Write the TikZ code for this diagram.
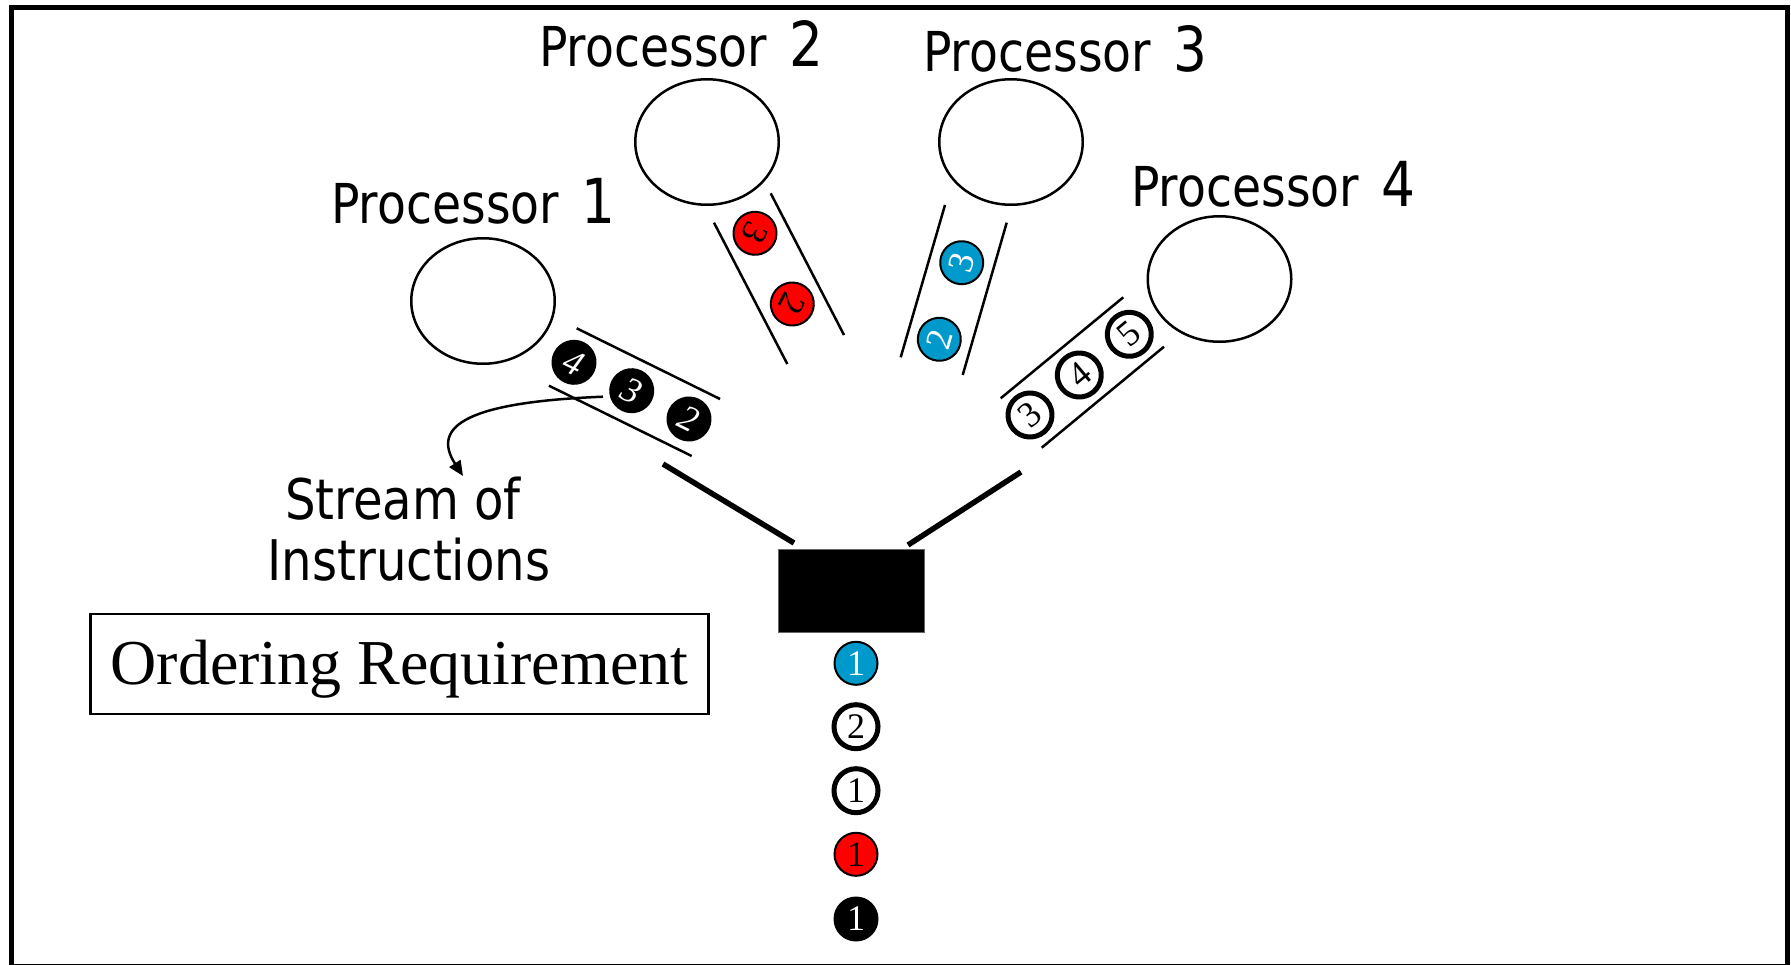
\documentclass[tikz,border=0pt]{standalone}
\usepackage{fontspec}
\setmainfont{Liberation Serif}
\newfontfamily\procfont[FakeStretch=0.86]{DejaVu Sans}
\usetikzlibrary{arrows.meta,shapes.geometric}
\definecolor{cblue}{RGB}{0,153,204}
\definecolor{cred}{RGB}{255,0,0}
\tikzset{
  procell/.style={ellipse, draw=black, line width=2.5pt, inner sep=0pt, minimum width=143.5pt, minimum height=125.5pt},
  proclabel/.style={anchor=base west, inner sep=0pt, font=\fontsize{55}{62}\procfont},
  chan/.style={line width=2.5pt, draw=black},
  tok/.style={circle, inner sep=0pt, minimum size=43pt, line width=2pt, draw=black, font=\fontsize{36}{40}\selectfont},
  tokblack/.style={tok, fill=black, text=white},
  tokblue/.style={tok, fill=cblue, text=white},
  tokred/.style={tok, fill=cred, text=black},
  tokwhite/.style={tok, minimum size=44pt, line width=5pt, fill=white, text=black},
  thick link/.style={line width=5.5pt, draw=black},
}
\newcommand{\procname}[1]{Processor\hspace{22pt}{\fontsize{62}{70}\selectfont #1}}
\begin{document}
\begin{tikzpicture}[x=1pt,y=-1pt]
\useasboundingbox (0,0) rectangle (1791,964);
% frame
\draw[line width=5pt] (11,7.5) rectangle (1787,966);

% processors
\node[procell] (p1) at (483,301) {};
\node[procell] (p2) at (707,142) {};
\node[procell] (p3) at (1011,142) {};
\node[procell] (p4) at (1219.5,279) {};

\node[proclabel] (l1) at (331,223) {\procname{1}};
\node[proclabel] (l2) at (539,66.7) {\procname{2}};
\node[proclabel] (l3) at (923,71) {\procname{3}};
\node[proclabel] (l4) at (1131,206.7) {\procname{4}};

% channel of processor 1
\draw[chan] (576.7,328.3) -- (720,399);
\draw[chan] (549,385.7) -- (691.7,456);
\node[tokblack, font=\fontsize{36}{40}\selectfont\itshape, rotate=-26] (a4) at (574,362.3) {4};
\node[tokblack, font=\fontsize{36}{40}\selectfont\itshape, rotate=-26] (a3) at (631.7,390.7) {3};
\node[tokblack, font=\fontsize{36}{40}\selectfont\itshape, rotate=-26] (a2) at (689,419) {2};

% channel of processor 2
\draw[chan] (714,222.7) -- (787.3,364);
\draw[chan] (770.7,193.3) -- (844,335);
\node[tokred, rotate=-117] (b3) at (755,233.3) {3};
\node[tokred, rotate=-117] (b2) at (792.3,304) {2};

% channel of processor 3
\draw[chan] (945,205) -- (900.7,357.3);
\draw[chan] (1006.7,222.7) -- (962.7,375);
\node[tokblue, rotate=74] (c3) at (961.7,262.7) {3};
\node[tokblue, rotate=74] (c2) at (939.3,339.3) {2};

% channel of processor 4
\draw[chan] (1000.7,398.3) -- (1123.3,297.3);
\draw[chan] (1041.7,447.7) -- (1164,346.7);
\node[tokwhite, rotate=40] (d3) at (1030,415) {3};
\node[tokwhite, rotate=40] (d4) at (1079.3,375) {4};
\node[tokwhite, rotate=40] (d5) at (1129.3,334.3) {5};

% stream label and arrow
\node[anchor=base, inner sep=0pt, font=\fontsize{56}{62}\procfont] (s1) at (403,519) {Stream of};
\node[anchor=base, inner sep=0pt, font=\fontsize{56}{62}\procfont] (s2) at (409,580) {Instructions};
\coordinate (arrstart) at (603,396.7);
\coordinate (arrend) at (463,476);
\draw[line width=2.5pt, -{Triangle[length=15pt,width=13pt]}] (arrstart) .. controls (470,402) and (430,425) .. (arrend);

% merger
\node[fill=black, draw=black!60, line width=0.8pt, minimum width=146pt, minimum height=83pt, inner sep=0pt] (mux) at (851,590.5) {};
\coordinate (la) at (663,464);
\coordinate (lb) at (794,543);
\coordinate (ra) at (1021,472);
\coordinate (rb) at (908,545);
\draw[thick link] (la) -- (lb);
\draw[thick link] (ra) -- (rb);

% output stream
\node[tokblue] (o1) at (856,663.3) {1};
\node[tokwhite] (o2) at (856,726.7) {2};
\node[tokwhite] (o3) at (856,790.7) {1};
\node[tokred] (o4) at (856,854.3) {1};
\node[tokblack] (o5) at (856,919) {1};

% ordering requirement
\node[draw=black, line width=2.5pt, anchor=base, inner xsep=20pt, inner ysep=15pt, text height=55pt, text depth=15pt, font=\fontsize{64}{70}\selectfont] (req) at (399.5,684) {Ordering Requirement};
\end{tikzpicture}
\end{document}
